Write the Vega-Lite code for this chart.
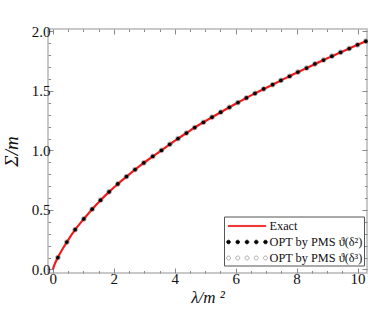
{
  "$schema": "https://vega.github.io/schema/vega-lite/v6.json",
  "width": 319,
  "height": 244,
  "autosize": {"type": "none"},
  "padding": {"left": 48, "top": 29, "right": 1, "bottom": 54},
  "background": "white",
  "config": {"view": {"stroke": "#b8b8b8", "strokeWidth": 1.5}, "font": "Liberation Serif"},
  "datasets": {
    "exact": [
      {"lam": 0, "sig": 0}, {"lam": 0.05, "sig": 0.038},
      {"lam": 0.164, "sig": 0.100}, {"lam": 0.459, "sig": 0.230}, {"lam": 0.731, "sig": 0.334}, {"lam": 1.016, "sig": 0.424},
      {"lam": 1.289, "sig": 0.506}, {"lam": 1.564, "sig": 0.582}, {"lam": 1.846, "sig": 0.652}, {"lam": 2.131, "sig": 0.718},
      {"lam": 2.416, "sig": 0.780}, {"lam": 2.698, "sig": 0.839}, {"lam": 2.984, "sig": 0.895}, {"lam": 3.279, "sig": 0.949},
      {"lam": 3.564, "sig": 1.001}, {"lam": 3.836, "sig": 1.051}, {"lam": 4.108, "sig": 1.099}, {"lam": 4.384, "sig": 1.146},
      {"lam": 4.656, "sig": 1.192}, {"lam": 4.941, "sig": 1.236}, {"lam": 5.223, "sig": 1.279}, {"lam": 5.508, "sig": 1.321},
      {"lam": 5.793, "sig": 1.362}, {"lam": 6.075, "sig": 1.402}, {"lam": 6.351, "sig": 1.441}, {"lam": 6.633, "sig": 1.479},
      {"lam": 6.918, "sig": 1.516}, {"lam": 7.213, "sig": 1.552}, {"lam": 7.485, "sig": 1.588}, {"lam": 7.770, "sig": 1.623},
      {"lam": 8.043, "sig": 1.658}, {"lam": 8.328, "sig": 1.692}, {"lam": 8.600, "sig": 1.726}, {"lam": 8.885, "sig": 1.759},
      {"lam": 9.157, "sig": 1.792}, {"lam": 9.443, "sig": 1.824}, {"lam": 9.728, "sig": 1.856}, {"lam": 10.000, "sig": 1.887},
      {"lam": 10.272, "sig": 1.918}
    ],
    "opt2": [
      {"lam": 0.164, "sig": 0.100}, {"lam": 0.459, "sig": 0.230}, {"lam": 0.731, "sig": 0.334}, {"lam": 1.016, "sig": 0.424},
      {"lam": 1.289, "sig": 0.506}, {"lam": 1.564, "sig": 0.582}, {"lam": 1.846, "sig": 0.652}, {"lam": 2.131, "sig": 0.718},
      {"lam": 2.416, "sig": 0.780}, {"lam": 2.698, "sig": 0.839}, {"lam": 2.984, "sig": 0.895}, {"lam": 3.279, "sig": 0.949},
      {"lam": 3.564, "sig": 1.001}, {"lam": 3.836, "sig": 1.051}, {"lam": 4.108, "sig": 1.099}, {"lam": 4.384, "sig": 1.146},
      {"lam": 4.656, "sig": 1.192}, {"lam": 4.941, "sig": 1.236}, {"lam": 5.223, "sig": 1.279}, {"lam": 5.508, "sig": 1.321},
      {"lam": 5.793, "sig": 1.362}, {"lam": 6.075, "sig": 1.402}, {"lam": 6.351, "sig": 1.441}, {"lam": 6.633, "sig": 1.479},
      {"lam": 6.918, "sig": 1.516}, {"lam": 7.213, "sig": 1.552}, {"lam": 7.485, "sig": 1.588}, {"lam": 7.770, "sig": 1.623},
      {"lam": 8.043, "sig": 1.658}, {"lam": 8.328, "sig": 1.692}, {"lam": 8.600, "sig": 1.726}, {"lam": 8.885, "sig": 1.759},
      {"lam": 9.157, "sig": 1.792}, {"lam": 9.443, "sig": 1.824}, {"lam": 9.728, "sig": 1.856}, {"lam": 10.000, "sig": 1.887},
      {"lam": 10.272, "sig": 1.918}
    ],
    "opt3": [
      {"lam": 0.164, "sig": 0.100}, {"lam": 0.459, "sig": 0.230}, {"lam": 0.731, "sig": 0.334}, {"lam": 1.016, "sig": 0.424},
      {"lam": 1.289, "sig": 0.506}, {"lam": 1.564, "sig": 0.582}, {"lam": 1.846, "sig": 0.652}, {"lam": 2.131, "sig": 0.718},
      {"lam": 2.416, "sig": 0.780}, {"lam": 2.698, "sig": 0.839}, {"lam": 2.984, "sig": 0.895}, {"lam": 3.279, "sig": 0.949},
      {"lam": 3.564, "sig": 1.001}, {"lam": 3.836, "sig": 1.051}, {"lam": 4.108, "sig": 1.099}, {"lam": 4.384, "sig": 1.146},
      {"lam": 4.656, "sig": 1.192}, {"lam": 4.941, "sig": 1.236}, {"lam": 5.223, "sig": 1.279}, {"lam": 5.508, "sig": 1.321},
      {"lam": 5.793, "sig": 1.362}, {"lam": 6.075, "sig": 1.402}, {"lam": 6.351, "sig": 1.441}, {"lam": 6.633, "sig": 1.479},
      {"lam": 6.918, "sig": 1.516}, {"lam": 7.213, "sig": 1.552}, {"lam": 7.485, "sig": 1.588}, {"lam": 7.770, "sig": 1.623},
      {"lam": 8.043, "sig": 1.658}, {"lam": 8.328, "sig": 1.692}, {"lam": 8.600, "sig": 1.726}, {"lam": 8.885, "sig": 1.759},
      {"lam": 9.157, "sig": 1.792}, {"lam": 9.443, "sig": 1.824}, {"lam": 9.728, "sig": 1.856}, {"lam": 10.000, "sig": 1.887},
      {"lam": 10.272, "sig": 1.918}
    ]
  },
  "layer": [
    {
      "data": {"name": "opt3"},
      "mark": {"type": "point", "filled": false, "size": 22, "strokeWidth": 0.9, "opacity": 1, "color": "#a0a0a0"},
      "encoding": {
        "x": {
          "field": "lam", "type": "quantitative",
          "scale": {"domain": [-0.16, 10.31], "nice": false, "zero": false},
          "axis": {
            "orient": "bottom",
            "values": [0,0.5,1,1.5,2,2.5,3,3.5,4,4.5,5,5.5,6,6.5,7,7.5,8,8.5,9,9.5,10],
            "labelExpr": "datum.value % 2 == 0 ? format(datum.value, 'd') : ''",
            "tickSize": {"condition": {"test": "datum.value % 2 == 0", "value": -5}, "value": -2.5},
            "tickColor": "#888", "domain": false, "grid": false,
            "labelFontSize": 15, "labelColor": "#111", "labelPadding": 3, "labelOverlap": false, "labelFlush": false,
            "title": "λ/m ²", "titleFontSize": 17, "titleFontStyle": "italic", "titleFontWeight": "normal",
            "titlePadding": 1, "titleColor": "#111"
          }
        },
        "y": {
          "field": "sig", "type": "quantitative",
          "scale": {"domain": [-0.03, 2.02], "nice": false, "zero": false},
          "axis": {
            "orient": "left",
            "values": [0,0.1,0.2,0.3,0.4,0.5,0.6,0.7,0.8,0.9,1,1.1,1.2,1.3,1.4,1.5,1.6,1.7,1.8,1.9,2],
            "labelExpr": "abs(datum.value*2 - round(datum.value*2)) < 0.001 ? format(datum.value, '.1f') : ''",
            "tickSize": {"condition": {"test": "abs(datum.value*2 - round(datum.value*2)) < 0.001", "value": -5}, "value": -2.5},
            "tickColor": "#888", "domain": false, "grid": false,
            "labelFontSize": 15, "labelColor": "#111", "labelPadding": 3, "labelOverlap": false, "labelFlush": false,
            "title": "Σ/m", "titleFontSize": 19, "titleFontStyle": "italic", "titleFontWeight": "normal",
            "titleX": -37, "titleY": 122, "titleAngle": -90, "titleAlign": "center", "titleBaseline": "middle",
            "titleColor": "#111"
          }
        }
      }
    },
    {
      "data": {"name": "exact"},
      "mark": {"type": "line", "color": "#ee1c1c", "strokeWidth": 2.2, "interpolate": "monotone"},
      "encoding": {
        "x": {
          "field": "lam", "type": "quantitative",
          "axis": {
            "orient": "top",
            "values": [0,0.5,1,1.5,2,2.5,3,3.5,4,4.5,5,5.5,6,6.5,7,7.5,8,8.5,9,9.5,10],
            "labels": false, "title": null, "domain": false, "grid": false,
            "tickSize": {"condition": {"test": "datum.value % 2 == 0", "value": -5}, "value": -2.5},
            "tickColor": "#888"
          }
        },
        "y": {
          "field": "sig", "type": "quantitative",
          "axis": {
            "orient": "right",
            "values": [0,0.1,0.2,0.3,0.4,0.5,0.6,0.7,0.8,0.9,1,1.1,1.2,1.3,1.4,1.5,1.6,1.7,1.8,1.9,2],
            "labels": false, "title": null, "domain": false, "grid": false,
            "tickSize": {"condition": {"test": "abs(datum.value*2 - round(datum.value*2)) < 0.001", "value": -5}, "value": -2.5},
            "tickColor": "#888"
          }
        }
      }
    },
    {
      "data": {"name": "opt2"},
      "mark": {"type": "point", "filled": true, "size": 14, "opacity": 1, "color": "black"},
      "encoding": {
        "x": {"field": "lam", "type": "quantitative", "axis": null},
        "y": {"field": "sig", "type": "quantitative", "axis": null}
      }
    },
    {
      "data": {"name": "opt3"},
      "mark": {"type": "point", "opacity": 0},
      "encoding": {
        "x": {"field": "lam", "type": "quantitative", "axis": null},
        "y": {"field": "sig", "type": "quantitative", "axis": null},
        "fill": {
          "datum": "OPT by PMS ϑ(δ³)", "type": "nominal",
          "scale": {"domain": ["Exact", "OPT by PMS ϑ(δ²)", "OPT by PMS ϑ(δ³)"], "range": ["#ee1c1c", "black", "white"]},
          "legend": {
            "orient": "none", "legendX": 176, "legendY": 187.5,
            "title": null,
            "symbolSize": 256, "symbolStrokeWidth": 0.8, "symbolOpacity": 1,
            "symbolOffset": 13.5, "labelOffset": 14,
            "labelFont": "Liberation Serif", "labelFontSize": 12.3, "labelColor": "#111",
            "strokeColor": "#555", "fillColor": "white", "padding": 1, "rowPadding": 1
          }
        },
        "stroke": {
          "datum": "OPT by PMS ϑ(δ³)", "type": "nominal",
          "scale": {"domain": ["Exact", "OPT by PMS ϑ(δ²)", "OPT by PMS ϑ(δ³)"], "range": ["#ee1c1c", "black", "#999999"]}
        },
        "shape": {
          "datum": "OPT by PMS ϑ(δ³)", "type": "nominal",
          "scale": {"domain": ["Exact", "OPT by PMS ϑ(δ²)", "OPT by PMS ϑ(δ³)"], "range": [
            "M-2.35,-0.07L2.35,-0.07L2.35,0.07L-2.35,0.07Z",
            "M-2.54,0a0.23,0.23 0 1,0 0.46,0a0.23,0.23 0 1,0 -0.46,0M-1.385,0a0.23,0.23 0 1,0 0.46,0a0.23,0.23 0 1,0 -0.46,0M-0.23,0a0.23,0.23 0 1,0 0.46,0a0.23,0.23 0 1,0 -0.46,0M0.925,0a0.23,0.23 0 1,0 0.46,0a0.23,0.23 0 1,0 -0.46,0M2.08,0a0.23,0.23 0 1,0 0.46,0a0.23,0.23 0 1,0 -0.46,0",
            "M-2.56,0a0.25,0.25 0 1,0 0.5,0a0.25,0.25 0 1,0 -0.5,0M-1.405,0a0.25,0.25 0 1,0 0.5,0a0.25,0.25 0 1,0 -0.5,0M-0.25,0a0.25,0.25 0 1,0 0.5,0a0.25,0.25 0 1,0 -0.5,0M0.905,0a0.25,0.25 0 1,0 0.5,0a0.25,0.25 0 1,0 -0.5,0M2.06,0a0.25,0.25 0 1,0 0.5,0a0.25,0.25 0 1,0 -0.5,0"
          ]}
        }
      }
    }
  ],
  "resolve": {"axis": {"x": "independent", "y": "independent"}}
}
